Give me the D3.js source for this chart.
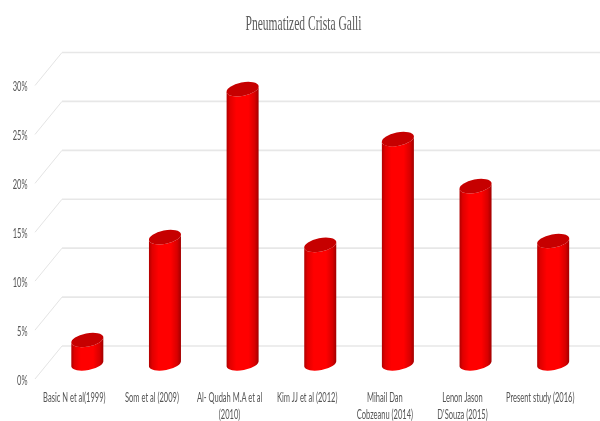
<!DOCTYPE html>
<html><head><meta charset="utf-8">
<script src="https://cdn.jsdelivr.net/npm/d3@7"></script>
<style>html,body{margin:0;padding:0;background:#fff}svg{display:block}</style></head>
<body><svg id="c" width="600" height="421"></svg>
<script>
const chartTitle = "Pneumatized Crista Galli";
const categories = ["Basic N et al(1999)","Som et al (2009)","Al- Qudah M.A et al|(2010)","Kim JJ et al (2012)","Mihail Dan|Cobzeanu (2014)","Lenon Jason|D'Souza (2015)","Present study (2016)"];
const values = [2.4,12.9,28,12.1,22.9,18.1,12.5];
const tickValues = [0,5,10,15,20,25,30];

const svg = d3.select("#c");
const defs = svg.append("defs");
const grad = defs.append("linearGradient").attr("id","cyl");
[[0,"#b00000"],[0.1,"#e00000"],[0.3,"#ff0000"],[0.68,"#ff0000"],[0.88,"#d80000"],[1,"#a00000"]]
  .forEach(([o,c])=>grad.append("stop").attr("offset",o).attr("stop-color",c));
defs.append("filter").attr("id","soft").append("feGaussianBlur").attr("stdDeviation",0.5);
defs.append("filter").attr("id","softText").append("feGaussianBlur").attr("stdDeviation",0.3);

const front = d3.scaleLinear().domain([0,30]).range([379,85.5]);
const depthX = 27, depthY = 33;
const x = d3.scaleBand().domain(categories).range([48.5,592]);
const base = d3.scaleLinear().domain([0,30]).range([363.5,69.5]);
const rx = 16.3, ry = 6.7, tilt = -11;
const labelFont = "Lato,'Open Sans',sans-serif";
const squeeze = 0.58;

const grid = svg.append("g");
tickValues.forEach(t=>{
  const y = front(t);
  grid.append("line").attr("x1",35).attr("y1",y).attr("x2",35+depthX).attr("y2",y-depthY)
    .attr("stroke","#e4e4e4").attr("stroke-width",1);
  grid.append("line").attr("x1",35+depthX).attr("y1",y-depthY).attr("x2",600).attr("y2",y-depthY)
    .attr("stroke","#e7e7e7").attr("stroke-width",1.6);
});

const axis = d3.axisLeft(front).tickValues(tickValues).tickFormat(d=>d+"%").tickSize(0).tickPadding(0);
const ag = svg.append("g").attr("transform","translate(27.5,1)").attr("filter","url(#softText)").call(axis);
ag.select(".domain").remove();
ag.selectAll("text").attr("font-family",labelFont)
  .attr("font-size",13).attr("fill","#555").attr("dy","0.32em")
  .attr("x",0).attr("transform",`scale(${squeeze},1)`);

const bars = svg.append("g").attr("filter","url(#soft)");
const a = tilt*Math.PI/180;
categories.forEach((c,i)=>{
  const cx = x(c)+x.bandwidth()/2, yb = base(0), yt = base(values[i]);
  const dx = rx*Math.cos(a), dy = rx*Math.sin(a);
  const g = bars.append("g");
  g.append("path")
   .attr("d",`M${cx-dx},${yt-dy} L${cx-dx},${yb-dy} A${rx},${ry} ${tilt} 0 0 ${cx+dx},${yb+dy} L${cx+dx},${yt+dy} A${rx},${ry} ${tilt} 0 1 ${cx-dx},${yt-dy} Z`)
   .attr("fill","url(#cyl)");
  g.append("ellipse").attr("rx",rx).attr("ry",ry)
   .attr("transform",`translate(${cx},${yt}) rotate(${tilt})`).attr("fill","#c60000");
});

const labels = svg.append("g").attr("font-family",labelFont).attr("filter","url(#softText)")
  .attr("font-size",13).attr("fill","#555").attr("text-anchor","middle");
categories.forEach(c=>{
  const cx = x(c)+x.bandwidth()/2 - 13;
  c.split("|").forEach((s,j)=>{
    labels.append("text").attr("transform",`translate(${cx},${401.5+j*17}) scale(${squeeze},1)`).text(s);
  });
});

svg.append("text").attr("x",303.5).attr("y",29.5).attr("text-anchor","middle").attr("filter","url(#softText)")
  .attr("font-family","'Liberation Serif',serif").attr("font-size",21).attr("fill","#595959")
  .attr("textLength",116).attr("lengthAdjust","spacingAndGlyphs").text(chartTitle);
</script></body></html>
